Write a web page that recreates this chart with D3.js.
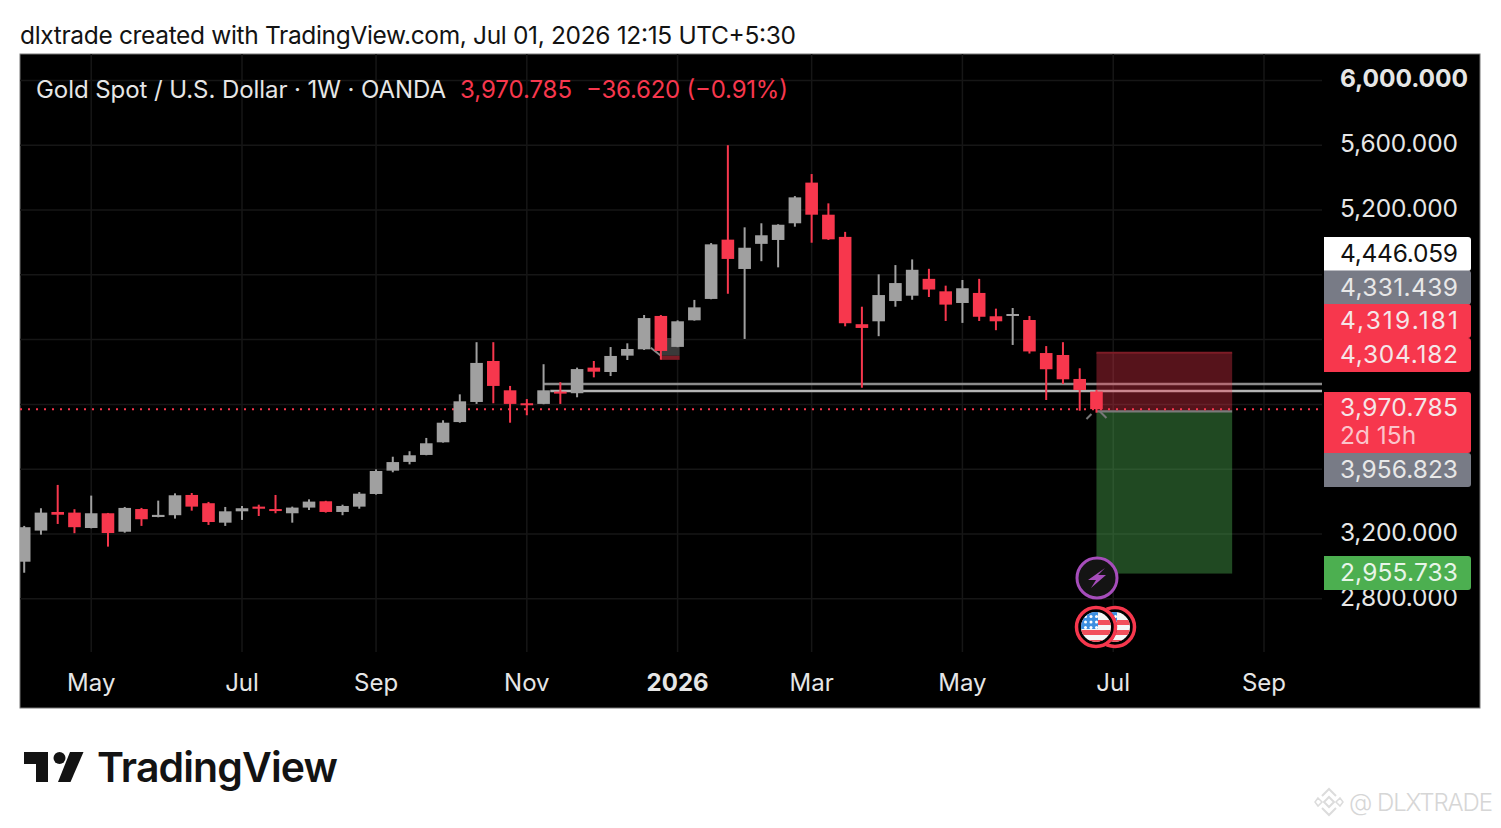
<!DOCTYPE html>
<html>
<head>
<meta charset="utf-8">
<title>Gold Spot</title>
<script src="https://cdnjs.cloudflare.com/ajax/libs/d3/7.8.5/d3.min.js"></script>
<style>
    html, body { margin: 0; padding: 0; background: #fff; }
    svg { display: block; }
    text { font-family: Inter, "Noto Sans", sans-serif; }
</style>
</head>
<body>
<div id="chart"></div>
<script>
var width = 1501,
        height = 828;

// weekly candles, oldest first
var opens = [3029, 3221, 3336, 3332, 3237, 3328, 3214, 3354, 3305, 3316, 3441, 3390, 3270, 3340, 3369, 3354, 3328, 3363, 3402, 3336, 3369, 3447,
    3591, 3645, 3688, 3766, 3891, 4015, 4268, 4087, 4007, 4003, 4079, 4069, 4227, 4200, 4301, 4340, 4546, 4355, 4519, 4651, 5017, 4836,
    4991, 5015, 5118, 5369, 5171, 5034, 4495, 4513, 4638, 4671, 4775, 4698, 4626, 4688, 4544, 4550, 4521, 4317, 4305, 4157, 4079];
var highs = [3250, 3359, 3503, 3353, 3437, 3330, 3367, 3361, 3406, 3451, 3453, 3398, 3367, 3373, 3381, 3441, 3369, 3414, 3405, 3381, 3459, 3599,
    3677, 3711, 3793, 3902, 4062, 4384, 4384, 4114, 4033, 4248, 4137, 4227, 4268, 4354, 4377, 4552, 4552, 4519, 4645, 4996, 5600, 5093,
    5118, 5112, 5286, 5422, 5241, 5065, 4603, 4803, 4860, 4895, 4837, 4733, 4768, 4775, 4591, 4595, 4546, 4360, 4384, 4223, 4089];
var lows = [2961, 3196, 3262, 3205, 3235, 3122, 3208, 3250, 3303, 3295, 3344, 3256, 3250, 3287, 3311, 3328, 3270, 3348, 3332, 3316, 3356, 3443,
    3581, 3630, 3686, 3764, 3887, 4003, 4007, 3887, 3933, 4001, 4003, 4044, 4167, 4175, 4274, 4336, 4276, 4353, 4517, 4649, 4683, 4404,
    4884, 4846, 5097, 4998, 5015, 4482, 4103, 4421, 4603, 4646, 4663, 4515, 4503, 4515, 4458, 4367, 4314, 4027, 4126, 3961, 3949];
var closes = [3242, 3332, 3319, 3242, 3328, 3206, 3361, 3291, 3318, 3439, 3369, 3274, 3340, 3359, 3356, 3342, 3363, 3400, 3336, 3373, 3449, 3589,
    3644, 3686, 3760, 3887, 4019, 4256, 4114, 4003, 3996, 4087, 4069, 4218, 4202, 4299, 4342, 4533, 4330, 4513, 4599, 4988, 4898, 4967,
    5044, 5109, 5278, 5171, 5019, 4501, 4472, 4675, 4749, 4831, 4709, 4616, 4717, 4541, 4513, 4558, 4327, 4217, 4155, 4089, 3970.785];

var gridPrices = [6000, 5600, 5200, 4800, 4400, 4000, 3600, 3200, 2800];
var priceTicks = [6000, 5600, 5200, 3200, 2800];   // the others sit behind the price tags
var timeTicks = [4, 13, 21, 30, 39, 47, 56, 65, 74];
var timeLabels = ["May", "Jul", "Sep", "Nov", "2026", "Mar", "May", "Jul", "Sep"];

var lastPrice = 3970.785;
var hLevels = [4126, 4083];
var hLevelStart = [31, 31.4];
var posStop = 4319.181,
        posEntry = 3956.823,
        posTarget = 2955.733;
var posStart = 64,
        posEnd = 72.1;

// price tags on the right side: text, colour, text colour
var tagText = ["4,446.059", "4,331.439", "4,319.181", "4,304.182", "3,956.823", "2,955.733"];
var tagFill = ["#ffffff", "#787b86", "#f7374d", "#f7374d", "#787b86", "#4caf50"];
var tagInk = ["#111", "#e8e8e8", "#f5e6e8", "#f5e6e8", "#e8e8e8", "#e8f5e8"];
var tagTop = [237, 270.5, 304, 338, 453, 556];

var red = "#f7374d",
        grey = "#a0a0a0",
        txt = "#e6e6e6";

var panel = {x: 20, y: 54, w: 1460, h: 654, axisX: 1322, gridBottom: 652};

var x = d3.scaleLinear().domain([0, 74]).range([24.2, 1264]);
var y = d3.scaleLinear().domain([2800, 5200]).range([598.8, 210]);

var svg = d3.select("#chart").append("svg")
        .attr("width", width)
        .attr("height", height);

svg.append("text")
        .attr("x", 20)
        .attr("y", 44)
        .attr("font-size", 24.5)
        .attr("fill", "#131313")
        .attr("textLength", 776)
        .text("dlxtrade created with TradingView.com, Jul 01, 2026 12:15 UTC+5:30");

svg.append("rect")
        .attr("x", panel.x)
        .attr("y", panel.y)
        .attr("width", panel.w)
        .attr("height", panel.h)
        .attr("fill", "#000")
        .attr("stroke", "#777")
        .attr("stroke-width", 1);

var clip = svg.append("clipPath").attr("id", "plot").append("rect")
        .attr("x", panel.x)
        .attr("y", panel.y)
        .attr("width", panel.axisX - panel.x)
        .attr("height", panel.h);

// grid
var grid = svg.append("g").attr("id", "grid").attr("stroke", "#161616").attr("stroke-width", 1.5);
grid.selectAll(".h").data(gridPrices).enter().append("line")
        .attr("x1", panel.x).attr("x2", panel.axisX)
        .attr("y1", function (d) { return y(d); })
        .attr("y2", function (d) { return y(d); });
grid.selectAll(".v").data(timeTicks).enter().append("line")
        .attr("y1", panel.y).attr("y2", panel.gridBottom)
        .attr("x1", function (d) { return x(d); })
        .attr("x2", function (d) { return x(d); });

// old long position leftover under the december candles
var old = svg.append("g").attr("id", "oldPosition");
old.append("rect")
        .attr("x", x(38)).attr("width", x(39) - x(38) + 2)
        .attr("y", y(4410)).attr("height", y(4300) - y(4410))
        .attr("fill", "#3a3a3a");
old.append("rect")
        .attr("x", x(38)).attr("width", x(39) - x(38) + 2)
        .attr("y", y(4300)).attr("height", y(4275) - y(4300))
        .attr("fill", "#7d1c26");
old.append("line")
        .attr("x1", x(37.4)).attr("y1", y(4350))
        .attr("x2", x(38)).attr("y2", y(4300))
        .attr("stroke", "#8a8a8a").attr("stroke-width", 2);

// horizontal levels
svg.append("g").attr("id", "levels").selectAll("line").data(hLevels).enter().append("line")
        .attr("x1", function (d, i) { return x(hLevelStart[i]); })
        .attr("x2", panel.axisX)
        .attr("y1", function (d) { return y(d); })
        .attr("y2", function (d) { return y(d); })
        .attr("stroke", function (d, i) { return i == 0 ? "#8c8c8c" : "#b4b4b4"; })
        .attr("stroke-width", 2.4);

// short position tool
var pos = svg.append("g").attr("id", "position");
pos.append("rect")
        .attr("x", x(posStart)).attr("width", x(posEnd) - x(posStart))
        .attr("y", y(posStop)).attr("height", y(posEntry) - y(posStop))
        .attr("fill", red).attr("fill-opacity", 0.35);
pos.append("rect")
        .attr("x", x(posStart)).attr("width", x(posEnd) - x(posStart))
        .attr("y", y(posEntry)).attr("height", y(posTarget) - y(posEntry))
        .attr("fill", "#4caf50").attr("fill-opacity", 0.42);
pos.append("line")
        .attr("x1", x(posStart)).attr("x2", x(posEnd))
        .attr("y1", y(posStop)).attr("y2", y(posStop))
        .attr("stroke", "#7d1c26").attr("stroke-width", 2);
pos.append("line")
        .attr("x1", x(posStart)).attr("x2", x(posEnd))
        .attr("y1", y(posEntry)).attr("y2", y(posEntry))
        .attr("stroke", "#7a7a7a").attr("stroke-width", 2.4);

// last price dotted line
svg.append("line")
        .attr("x1", panel.x).attr("x2", panel.axisX)
        .attr("y1", y(lastPrice)).attr("y2", y(lastPrice))
        .attr("stroke", red)
        .attr("stroke-width", 2)
        .attr("stroke-dasharray", "2 6");

// candles
var candles = svg.append("g").attr("id", "candles").attr("clip-path", "url(#plot)");
var bw = 12.6;
function candleColor(d) {
    return closes[d] >= opens[d] ? grey : red;
}
var idx = d3.range(opens.length);
candles.selectAll(".wick").data(idx).enter().append("line")
        .attr("x1", function (d) { return x(d); })
        .attr("x2", function (d) { return x(d); })
        .attr("y1", function (d) { return y(highs[d]); })
        .attr("y2", function (d) { return y(lows[d]); })
        .attr("stroke", candleColor)
        .attr("stroke-width", 2);
candles.selectAll(".body").data(idx).enter().append("rect")
        .attr("x", function (d) { return x(d) - bw / 2; })
        .attr("width", bw)
        .attr("y", function (d) { return y(Math.max(opens[d], closes[d])); })
        .attr("height", function (d) { return Math.max(2, Math.abs(y(opens[d]) - y(closes[d]))); })
        .attr("fill", candleColor);

// small cursor ticks below the last candle
var cur = svg.append("g").attr("stroke", "#777").attr("stroke-width", 2);
cur.append("line").attr("x1", x(64) - 10).attr("y1", 419).attr("x2", x(64) - 5).attr("y2", 414);
cur.append("line").attr("x1", x(64) + 10).attr("y1", 418).attr("x2", x(64) + 3).attr("y2", 411);

// axes
var yAxis = d3.axisRight(y)
        .tickValues(priceTicks)
        .tickSize(0)
        .tickPadding(0)
        .tickFormat(d3.format(",.3f"));
var yG = svg.append("g").attr("transform", "translate(1340,-1.5)").call(yAxis);
yG.select(".domain").remove();
yG.selectAll("text")
        .attr("font-size", 24.5)
        .style("font-family", "Inter")
        .attr("fill", txt)
        .attr("textLength", function (d) { return d == 6000 ? 128 : 118; })
        .attr("font-weight", function (d) { return d == 6000 ? 700 : 400; });

var xAxis = d3.axisBottom(x)
        .tickValues(timeTicks)
        .tickSize(0)
        .tickPadding(0)
        .tickFormat(function (d, i) { return timeLabels[i]; });
var xG = svg.append("g").attr("transform", "translate(-0.5,673.5)").call(xAxis);
xG.select(".domain").remove();
xG.selectAll("text")
        .attr("font-size", 24)
        .style("font-family", "Inter")
        .attr("fill", txt)
        .attr("font-weight", function (d, i) { return timeLabels[i] == "2026" ? 700 : 400; });

// price tags
function tagPath(x0, y0, w, h, r) {
    return "M" + x0 + "," + y0 + "H" + (x0 + w - r) + "Q" + (x0 + w) + "," + y0 + " " + (x0 + w) + "," + (y0 + r)
            + "V" + (y0 + h - r) + "Q" + (x0 + w) + "," + (y0 + h) + " " + (x0 + w - r) + "," + (y0 + h) + "H" + x0 + "Z";
}
var tags = svg.append("g").attr("id", "tags");
tags.selectAll("path").data(tagText).enter().append("path")
        .attr("d", function (d, i) { return tagPath(1324, tagTop[i], 147, 34, 3); })
        .attr("fill", function (d, i) { return tagFill[i]; });
tags.selectAll("text").data(tagText).enter().append("text")
        .attr("x", 1340)
        .attr("y", function (d, i) { return tagTop[i] + 25; })
        .attr("font-size", 24.5)
        .attr("textLength", 118)
        .attr("fill", function (d, i) { return tagInk[i]; })
        .text(function (d) { return d; });

tags.append("path").attr("d", tagPath(1324, 392, 147, 61, 3)).attr("fill", red);
tags.append("text")
        .attr("x", 1340).attr("y", 416)
        .attr("font-size", 24.5).attr("fill", "#f5e6e8")
        .attr("textLength", 118)
        .text(d3.format(",.3f")(lastPrice));
tags.append("text")
        .attr("x", 1340).attr("y", 444)
        .attr("font-size", 24.5).attr("fill", "#fbc4cb")
        .text("2d 15h");

// legend line
var legend = svg.append("g").attr("font-size", 24);
legend.append("text").attr("x", 36).attr("y", 98).attr("fill", txt).attr("textLength", 410)
        .text("Gold Spot / U.S. Dollar \u00b7 1W \u00b7 OANDA");
legend.append("text").attr("x", 460).attr("y", 98).attr("fill", red).attr("textLength", 112)
        .text("3,970.785");
legend.append("text").attr("x", 586).attr("y", 98).attr("fill", red).attr("textLength", 202)
        .text("\u221236.620 (\u22120.91%)");

// event markers
var ev = svg.append("g").attr("id", "events");
ev.append("circle").attr("cx", 1097).attr("cy", 578).attr("r", 20)
        .attr("fill", "#141414").attr("stroke", "#a64dbb").attr("stroke-width", 3);
ev.append("path")
        .attr("d", "M1105,568 L1088,580 L1096,580 L1091,588 L1106,575 L1098,575 Z")
        .attr("fill", "#a64dbb");

var defs = svg.append("defs");
function flag(cx, cy) {
    var id = "flag" + cx;
    defs.append("clipPath").attr("id", id).append("circle").attr("cx", cx).attr("cy", cy).attr("r", 15);
    var g = ev.append("g");
    g.append("circle").attr("cx", cx).attr("cy", cy).attr("r", 21).attr("fill", "#000");
    g.append("circle").attr("cx", cx).attr("cy", cy).attr("r", 19.5)
            .attr("fill", "#000").attr("stroke", red).attr("stroke-width", 3.5);
    var f = g.append("g").attr("clip-path", "url(#" + id + ")");
    f.append("rect").attr("x", cx - 16).attr("y", cy - 16).attr("width", 32).attr("height", 32).attr("fill", "#f6f6f6");
    d3.range(3).forEach(function (k) {
        f.append("rect").attr("x", cx - 16).attr("y", cy - 7 + k * 10).attr("width", 32).attr("height", 5).attr("fill", "#f2505c");
    });
    f.append("rect").attr("x", cx - 16).attr("y", cy - 16).attr("width", 18).attr("height", 18).attr("fill", "#3d8fe0");
    d3.range(3).forEach(function (r) {
        d3.range(3).forEach(function (c) {
            f.append("circle").attr("cx", cx - 10.5 + c * 5.5).attr("cy", cy - 10.5 + r * 5.5).attr("r", 1.5).attr("fill", "#fff");
        });
    });
}
flag(1115, 627);
flag(1096, 627);

// logo
var logo = svg.append("g").attr("fill", "#131313");
logo.append("path").attr("d", "M24,752 H48 V782 H36 V764 H24 Z");
logo.append("circle").attr("cx", 59.5).attr("cy", 758).attr("r", 6);
logo.append("path").attr("d", "M70,752 H83.5 L70.5,782 H58 Z");
logo.append("text").attr("x", 97).attr("y", 782)
        .attr("font-size", 41)
        .attr("font-weight", 600)
        .attr("textLength", 241)
        .text("TradingView");

// watermark
var mark = svg.append("g").attr("fill", "none").attr("stroke", "#dcdcdc").attr("stroke-width", 2);
mark.append("path").attr("d", "M1322,796 L1329,789 L1336,796 M1322,808 L1329,815 L1336,808");
mark.append("path").attr("d", "M1329,797 L1334,802 L1329,807 L1324,802 Z");
mark.append("path").attr("d", "M1318,798 L1322,802 L1318,806 L1315,802 Z M1340,798 L1343,802 L1340,806 L1336,802 Z").attr("stroke-width", 1.5);
svg.append("text").attr("x", 1349).attr("y", 811)
        .attr("font-size", 24)
        .attr("font-weight", 300)
        .attr("fill", "#d6d6d6")
        .text("@");
svg.append("text").attr("x", 1377).attr("y", 811)
        .attr("font-size", 24)
        .attr("font-weight", 300)
        .attr("fill", "#d6d6d6")
        .attr("textLength", 116)
        .text("DLXTRADE");
</script>
</body>
</html>
